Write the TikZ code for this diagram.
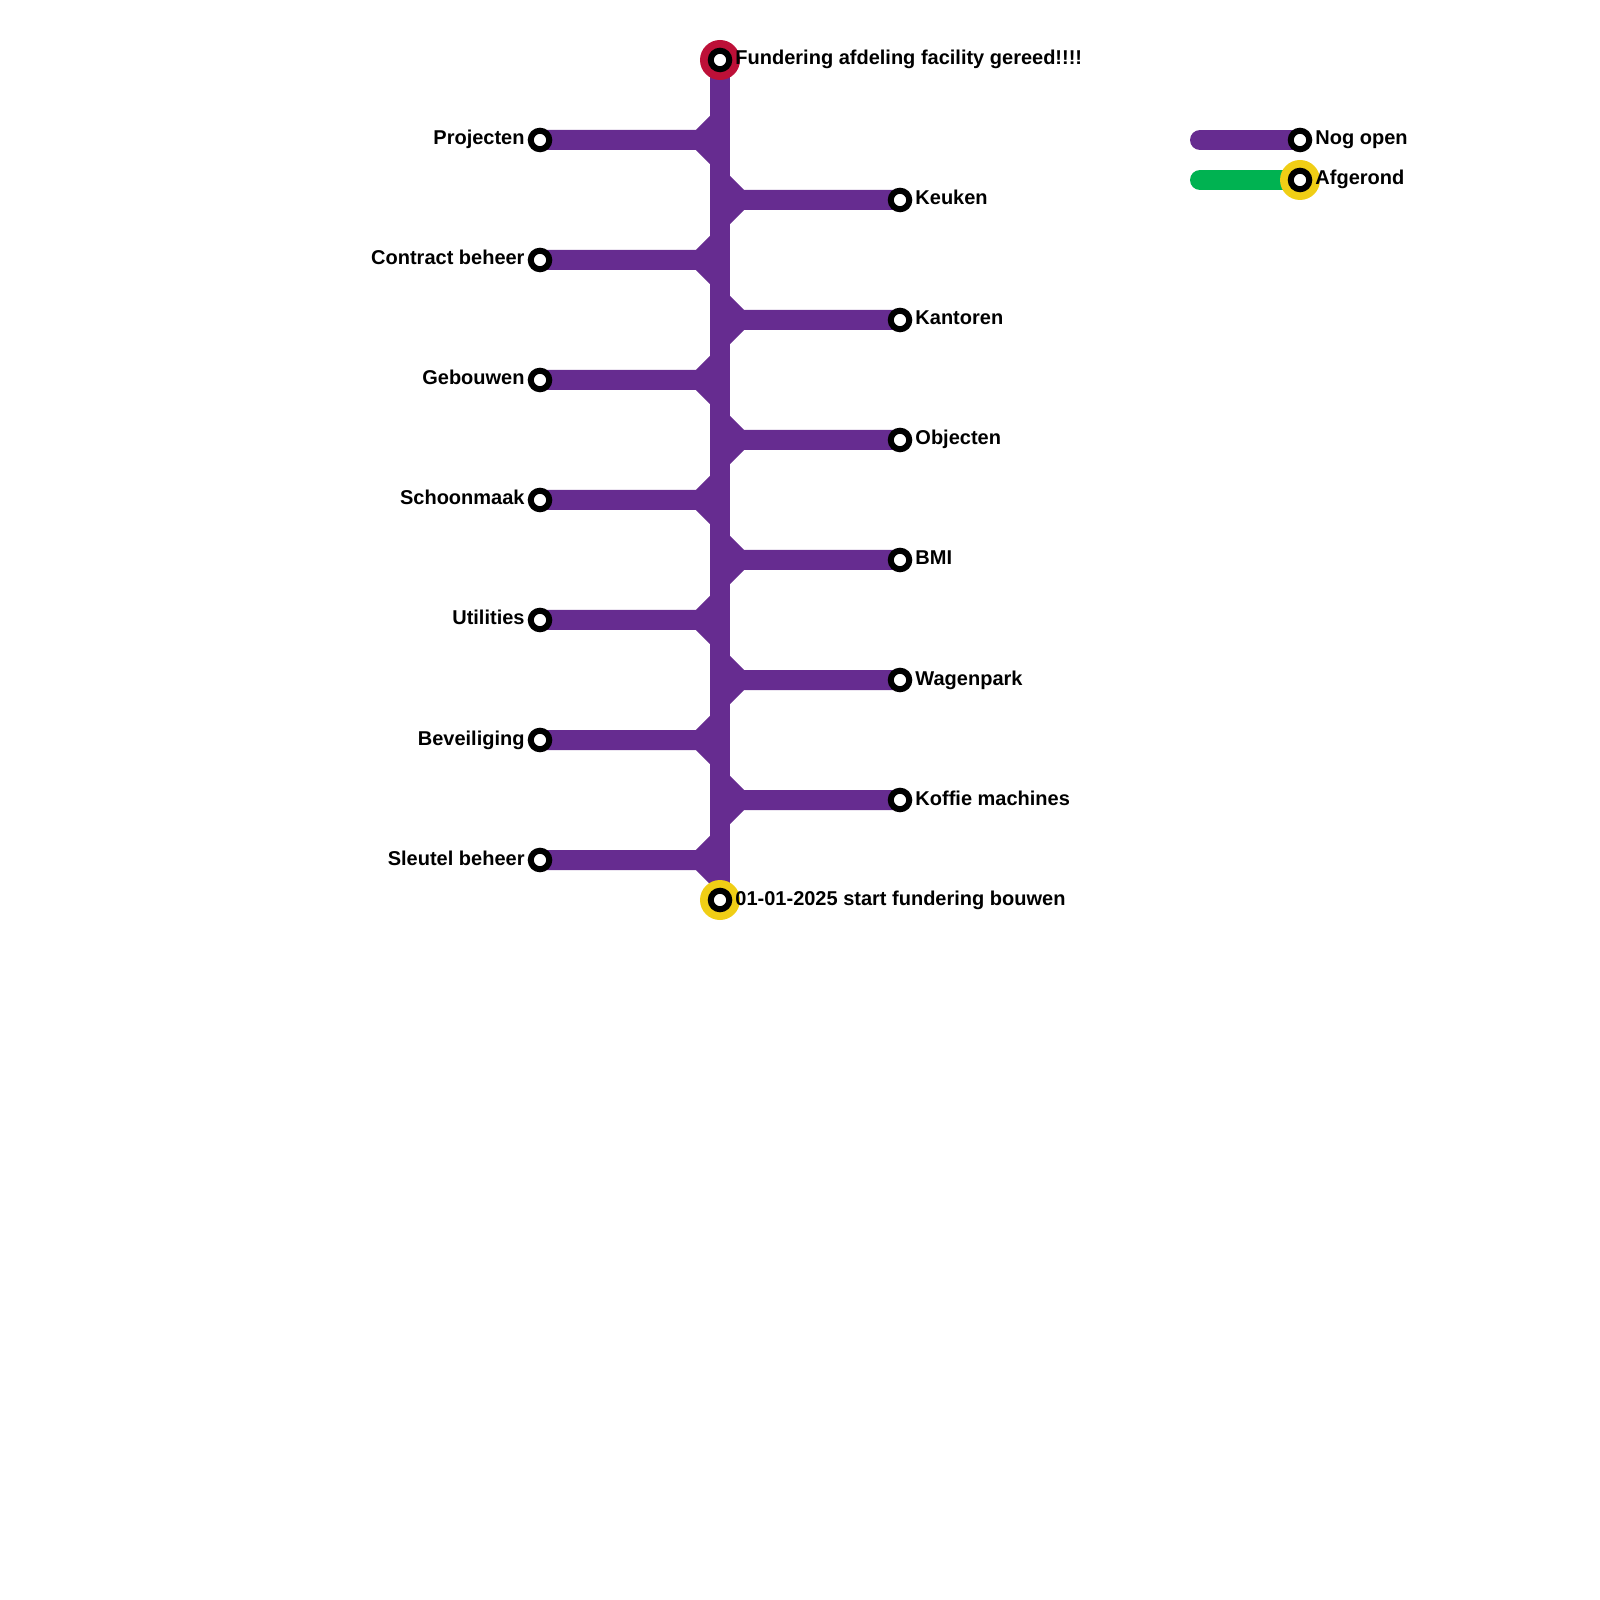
\documentclass[tikz,border=0pt]{standalone}
\usepackage{fontspec}
\setmainfont{Liberation Sans}
\usetikzlibrary{positioning, calc, backgrounds}
\definecolor{linepurple}{HTML}{662C90}
\definecolor{linegreen}{HTML}{00B251}
\definecolor{ringred}{HTML}{BD1038}
\definecolor{ringyellow}{HTML}{F0CE15}

\begin{document}
\begin{tikzpicture}[
    on grid,
    stop/.style={circle, draw=black, fill=white, line width=0.06cm, minimum size=0.185cm, inner sep=0pt},
    ring/.style={circle, minimum size=0.4cm, inner sep=0pt, outer sep=0pt},
    track/.style={line width=0.2cm},
    tag/.style={on grid=false, inner sep=0pt, text height=0.15cm, text depth=0.05cm, font=\fontsize{5.69pt}{7pt}\selectfont\bfseries},
]
\useasboundingbox (0,0) rectangle (16,-16);

% main line
\node[stop] (top) at (7.2,-0.6) {};
\node[stop, below=8.4cm of top] (bottom) {};

% left side
\node[stop] (proj) at (5.4,-1.4) {};
\node[stop, below=1.2cm of proj] (contract) {};
\node[stop, below=1.2cm of contract] (gebouw) {};
\node[stop, below=1.2cm of gebouw] (schoon) {};
\node[stop, below=1.2cm of schoon] (util) {};
\node[stop, below=1.2cm of util] (beveil) {};
\node[stop, below=1.2cm of beveil] (sleutel) {};

% right side
\node[stop] (keuken) at (9,-2) {};
\node[stop, below=1.2cm of keuken] (kantoor) {};
\node[stop, below=1.2cm of kantoor] (object) {};
\node[stop, below=1.2cm of object] (bmi) {};
\node[stop, below=1.2cm of bmi] (wagen) {};
\node[stop, below=1.2cm of wagen] (koffie) {};

% legend
\node[stop] (open) at (13,-1.4) {};
\node[stop, below=0.4cm of open] (klaar) {};
\coordinate[left=1cm of open] (openstart);
\coordinate[left=1cm of klaar] (klaarstart);

% bends
\coordinate[right=1.6cm of proj] (projb);
\coordinate[right=1.6cm of contract] (contractb);
\coordinate[right=1.6cm of gebouw] (gebouwb);
\coordinate[right=1.6cm of schoon] (schoonb);
\coordinate[right=1.6cm of util] (utilb);
\coordinate[right=1.6cm of beveil] (beveilb);
\coordinate[right=1.6cm of sleutel] (sleutelb);
\coordinate[left=1.6cm of keuken] (keukenb);
\coordinate[left=1.6cm of kantoor] (kantoorb);
\coordinate[left=1.6cm of object] (objectb);
\coordinate[left=1.6cm of bmi] (bmib);
\coordinate[left=1.6cm of wagen] (wagenb);
\coordinate[left=1.6cm of koffie] (koffieb);

\begin{scope}[on background layer]
\draw[track, linepurple] (top.center) -- (bottom.center);
\draw[track, linepurple] (proj.center) -- (projb) ($(projb)+(0.2,0.2)$) -- (projb) -- ($(projb)+(0.2,-0.2)$);
\draw[track, linepurple] (contract.center) -- (contractb) ($(contractb)+(0.2,0.2)$) -- (contractb) -- ($(contractb)+(0.2,-0.2)$);
\draw[track, linepurple] (gebouw.center) -- (gebouwb) ($(gebouwb)+(0.2,0.2)$) -- (gebouwb) -- ($(gebouwb)+(0.2,-0.2)$);
\draw[track, linepurple] (schoon.center) -- (schoonb) ($(schoonb)+(0.2,0.2)$) -- (schoonb) -- ($(schoonb)+(0.2,-0.2)$);
\draw[track, linepurple] (util.center) -- (utilb) ($(utilb)+(0.2,0.2)$) -- (utilb) -- ($(utilb)+(0.2,-0.2)$);
\draw[track, linepurple] (beveil.center) -- (beveilb) ($(beveilb)+(0.2,0.2)$) -- (beveilb) -- ($(beveilb)+(0.2,-0.2)$);
\draw[track, linepurple] (sleutel.center) -- (sleutelb) ($(sleutelb)+(0.2,0.2)$) -- (sleutelb) -- ($(sleutelb)+(0.2,-0.2)$);
\draw[track, linepurple] (keuken.center) -- (keukenb) ($(keukenb)+(-0.2,0.2)$) -- (keukenb) -- ($(keukenb)+(-0.2,-0.2)$);
\draw[track, linepurple] (kantoor.center) -- (kantoorb) ($(kantoorb)+(-0.2,0.2)$) -- (kantoorb) -- ($(kantoorb)+(-0.2,-0.2)$);
\draw[track, linepurple] (object.center) -- (objectb) ($(objectb)+(-0.2,0.2)$) -- (objectb) -- ($(objectb)+(-0.2,-0.2)$);
\draw[track, linepurple] (bmi.center) -- (bmib) ($(bmib)+(-0.2,0.2)$) -- (bmib) -- ($(bmib)+(-0.2,-0.2)$);
\draw[track, linepurple] (wagen.center) -- (wagenb) ($(wagenb)+(-0.2,0.2)$) -- (wagenb) -- ($(wagenb)+(-0.2,-0.2)$);
\draw[track, linepurple] (koffie.center) -- (koffieb) ($(koffieb)+(-0.2,0.2)$) -- (koffieb) -- ($(koffieb)+(-0.2,-0.2)$);
\draw[track, linepurple, line cap=round] (openstart) -- (open.center);
\draw[track, linegreen, line cap=round] (klaarstart) -- (klaar.center);
\node[ring, fill=ringred] (topring) at (top) {};
\node[ring, fill=ringyellow] (bottomring) at (bottom) {};
\node[ring, fill=ringyellow] (klaarring) at (klaar) {};
\end{scope}

% labels
\node[tag, right=0.025cm of top] (toptag) {Fundering afdeling facility gereed!!!!};
\node[tag, right=0.025cm of bottom] (bottomtag) {01-01-2025 start fundering bouwen};
\node[tag, left=0.025cm of proj] (projtag) {Projecten};
\node[tag, left=0.025cm of contract] (contracttag) {Contract beheer};
\node[tag, left=0.025cm of gebouw] (gebouwtag) {Gebouwen};
\node[tag, left=0.025cm of schoon] (schoontag) {Schoonmaak};
\node[tag, left=0.025cm of util] (utiltag) {Utilities};
\node[tag, left=0.025cm of beveil] (beveiltag) {Beveiliging};
\node[tag, left=0.025cm of sleutel] (sleuteltag) {Sleutel beheer};
\node[tag, right=0.025cm of keuken] (keukentag) {Keuken};
\node[tag, right=0.025cm of kantoor] (kantoortag) {Kantoren};
\node[tag, right=0.025cm of object] (objecttag) {Objecten};
\node[tag, right=0.025cm of bmi] (bmitag) {BMI};
\node[tag, right=0.025cm of wagen] (wagentag) {Wagenpark};
\node[tag, right=0.025cm of koffie] (koffietag) {Koffie machines};
\node[tag, right=0.025cm of open] (opentag) {Nog open};
\node[tag, right=0.025cm of klaar] (klaartag) {Afgerond};

\end{tikzpicture}
\end{document}
